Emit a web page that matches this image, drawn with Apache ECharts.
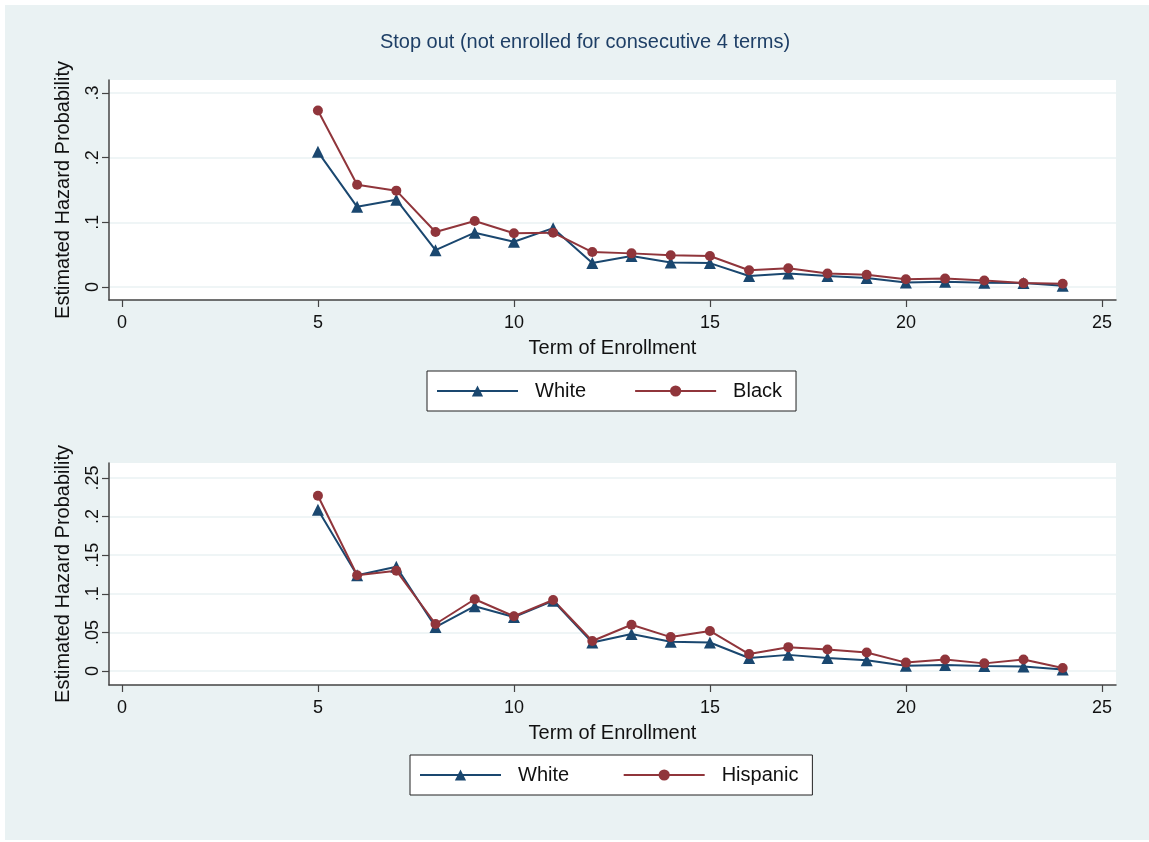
<!DOCTYPE html>
<html>
<head>
<meta charset="utf-8">
<script src="https://cdn.jsdelivr.net/npm/echarts@6/dist/echarts.min.js"></script>
<style>
  body { margin: 0; background: #fff; }
  #bg { position: absolute; left: 5px; top: 5px; width: 1144px; height: 835px; background: #EAF2F3; }
  #main { position: absolute; left: 0; top: 0; width: 1149px; height: 842px; }
</style>
</head>
<body>
<div id="bg"></div>
<div id="main"></div>
<script>
// term of enrollment
const terms = [5, 6, 7, 8, 9, 10, 11, 12, 13, 14, 15, 16, 17, 18, 19, 20, 21, 22, 23, 24]
// estimated hazard probability
const white = [0.209, 0.124, 0.135, 0.057, 0.084, 0.070, 0.091, 0.037, 0.048, 0.038,
  0.037, 0.017, 0.021, 0.017, 0.014, 0.007, 0.008, 0.0065, 0.006, 0.002]
const black = [0.273, 0.158, 0.149, 0.085, 0.102, 0.083, 0.084, 0.054, 0.052, 0.049,
  0.048, 0.026, 0.029, 0.021, 0.019, 0.012, 0.013, 0.010, 0.006, 0.005]
const hispanic = [0.227, 0.124, 0.130, 0.061, 0.093, 0.071, 0.092, 0.039, 0.060, 0.044,
  0.052, 0.022, 0.031, 0.028, 0.024, 0.011, 0.015, 0.010, 0.015, 0.004]

const xTicks = [0, 5, 10, 15, 20, 25]
const yTicksTop = [0, 0.1, 0.2, 0.3]
const yTicksBottom = [0, 0.05, 0.1, 0.15, 0.2, 0.25]

const NAVY = '#1A476F'
const MAROON = '#90353B'
const FONT = 'Liberation Sans, Arial, sans-serif'

const pairs = (ys) => terms.map((t, i) => [t, ys[i]])
const fmtY = (v) => {
  if (Math.abs(v) < 1e-9) return '0'
  return String(+v.toFixed(2)).replace(/^0\./, '.')
}

function xAxisFor (gridIndex) {
  return {
    type: 'value',
    gridIndex: gridIndex,
    min: -0.33,
    max: 25.36,
    name: 'Term of Enrollment',
    nameLocation: 'middle',
    nameGap: 38,
    nameTextStyle: { fontFamily: FONT, fontSize: 20, color: '#111' },
    axisLine: { show: true, onZero: false, lineStyle: { color: '#444', width: 1.5 } },
    axisTick: { show: true, inside: false, length: 7, customValues: xTicks, lineStyle: { color: '#444', width: 1.2 } },
    axisLabel: { customValues: xTicks, margin: 14, fontFamily: FONT, fontSize: 18, color: '#111' },
    splitLine: { show: false }
  }
}

function yAxisFor (gridIndex, min, max, ticks) {
  return {
    type: 'value',
    gridIndex: gridIndex,
    min: min,
    max: max,
    name: 'Estimated Hazard Probability',
    nameLocation: 'middle',
    nameGap: 36,
    nameRotate: 90,
    nameTextStyle: { fontFamily: FONT, fontSize: 20, color: '#111' },
    axisLine: { show: true, onZero: false, lineStyle: { color: '#444', width: 1.5 } },
    axisTick: { show: true, inside: false, length: 7, customValues: ticks, lineStyle: { color: '#444', width: 1.2 } },
    axisLabel: { customValues: ticks, rotate: 90, margin: 7, fontFamily: FONT, fontSize: 18, color: '#111', formatter: fmtY },
    splitLine: { show: true, lineStyle: { color: '#EAF2F3', width: 1.5 } }
  }
}

function lineSeries (name, data, color, symbol, size, axis) {
  return {
    name: name,
    type: 'line',
    xAxisIndex: axis,
    yAxisIndex: axis,
    data: pairs(data),
    symbol: symbol,
    symbolSize: size,
    showSymbol: true,
    lineStyle: { color: color, width: 2 },
    itemStyle: { color: color },
    emphasis: { disabled: true },
    animation: false
  }
}

function legendFor (left, top, names, gap) {
  return {
    left: left,
    top: top,
    data: names,
    orient: 'horizontal',
    backgroundColor: '#fff',
    borderColor: '#222',
    borderWidth: 1,
    borderRadius: 0,
    padding: [10, 14, 10, 9],
    itemWidth: 81,
    itemHeight: 14,
    itemGap: gap,
    selectedMode: false,
    textStyle: { fontFamily: FONT, fontSize: 20, color: '#111', padding: [0, 0, 0, 12] }
  }
}

const option = {
  backgroundColor: 'transparent',
  animation: false,
  title: {
    text: 'Stop out (not enrolled for consecutive 4 terms)',
    left: 580,
    top: 27,
    textAlign: 'center',
    textStyle: { fontFamily: FONT, fontSize: 20, fontWeight: 'normal', color: '#1E3F66' }
  },
  grid: [
    { left: 109, top: 80, width: 1007, height: 220, show: true, backgroundColor: '#fff', borderWidth: 0 },
    { left: 109, top: 463, width: 1007, height: 222, show: true, backgroundColor: '#fff', borderWidth: 0 }
  ],
  xAxis: [xAxisFor(0), xAxisFor(1)],
  yAxis: [
    yAxisFor(0, -0.0201, 0.3201, yTicksTop),
    yAxisFor(1, -0.018, 0.2694, yTicksBottom)
  ],
  legend: [
    legendFor(427, 371, ['White', 'Black'], 48),
    legendFor(410, 755, [{ name: 'White ' }, { name: 'Hispanic' }], 48)
  ],
  series: [
    lineSeries('White', white, NAVY, 'triangle', 12, 0),
    lineSeries('Black', black, MAROON, 'circle', 10, 0),
    lineSeries('White ', white, NAVY, 'triangle', 12, 1),
    lineSeries('Hispanic', hispanic, MAROON, 'circle', 10, 1)
  ]
}

const chart = echarts.init(document.getElementById('main'))
chart.setOption(option)
</script>
</body>
</html>
